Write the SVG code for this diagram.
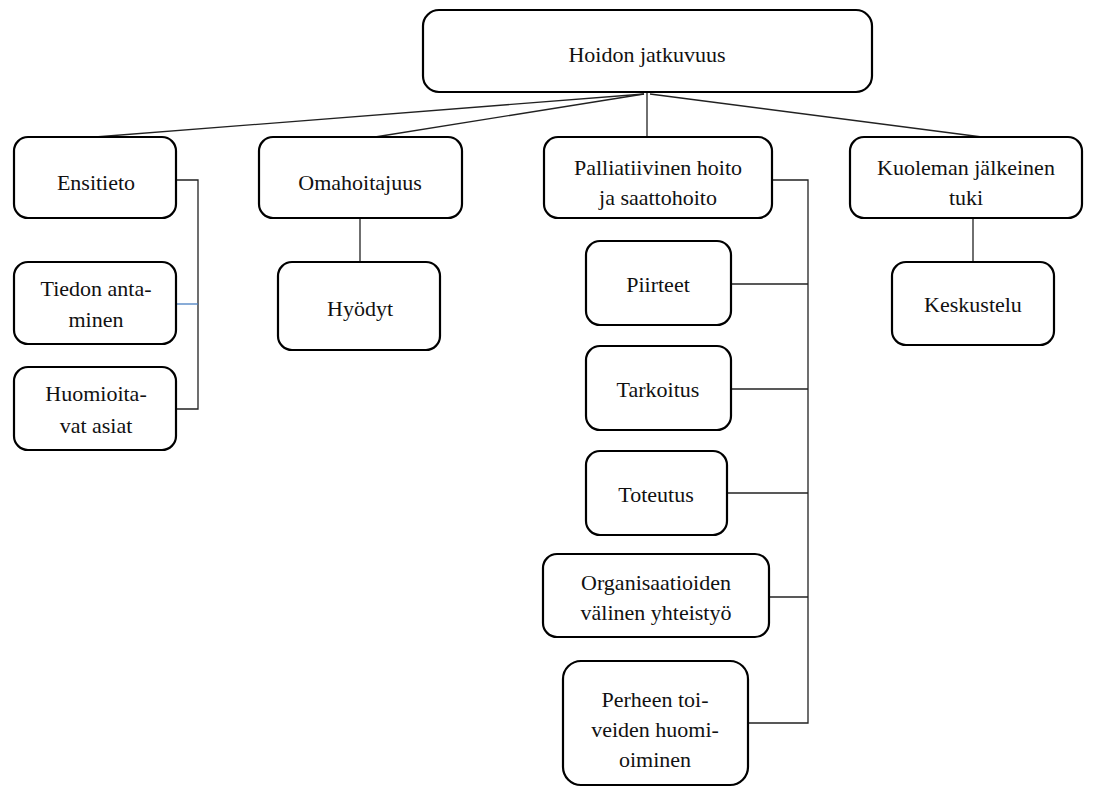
<svg xmlns="http://www.w3.org/2000/svg" width="1096" height="787" viewBox="0 0 1096 787">
<style>
.box{fill:#fff;stroke:#000;stroke-width:2.2}
.t{font-family:"Liberation Serif","Times New Roman",serif;font-size:22px;fill:#111;text-anchor:middle}
.c{fill:none;stroke:#222;stroke-width:1.3}
</style>
<rect width="1096" height="787" fill="#fff"/>
<g id="connectors">
<line class="c" x1="644" y1="94" x2="95" y2="137"/>
<line class="c" x1="644" y1="94" x2="375" y2="137"/>
<line class="c" x1="647" y1="92" x2="647" y2="137"/>
<line class="c" x1="650" y1="94" x2="982" y2="137"/>
<polyline class="c" points="176,180 198,180 198,409 176,409"/>
<line x1="176" y1="304" x2="198" y2="304" stroke="#4a7fc1" stroke-width="1.3"/>
<line class="c" x1="360" y1="218" x2="360" y2="262"/>
<polyline class="c" points="772,180 808,180 808,723 748,723"/>
<line class="c" x1="731" y1="284" x2="808" y2="284"/>
<line class="c" x1="731" y1="389" x2="808" y2="389"/>
<line class="c" x1="727" y1="493" x2="808" y2="493"/>
<line class="c" x1="769" y1="597" x2="808" y2="597"/>
<line class="c" x1="973" y1="218" x2="973" y2="262"/>
</g>
<g id="n-hoidon"><rect class="box" x="423" y="10" width="449" height="82" rx="16"/><text class="t" x="647" y="62">Hoidon jatkuvuus</text></g>
<g id="n-ensitieto"><rect class="box" x="14" y="137" width="162" height="81" rx="14"/><text class="t" x="96" y="190">Ensitieto</text></g>
<g id="n-omahoitajuus"><rect class="box" x="259" y="137" width="203" height="81" rx="14"/><text class="t" x="360" y="190">Omahoitajuus</text></g>
<g id="n-palliatiivinen"><rect class="box" x="544" y="137" width="228" height="81" rx="14"/><text class="t" x="658" y="175">Palliatiivinen hoito</text><text class="t" x="658" y="205">ja saattohoito</text></g>
<g id="n-kuoleman"><rect class="box" x="850" y="137" width="232" height="81" rx="14"/><text class="t" x="966" y="175">Kuoleman jälkeinen</text><text class="t" x="966" y="205">tuki</text></g>
<g id="n-tiedon"><rect class="box" x="14" y="262" width="162" height="82" rx="14"/><text class="t" x="96" y="296">Tiedon anta-</text><text class="t" x="96" y="327">minen</text></g>
<g id="n-huomioitavat"><rect class="box" x="14" y="367" width="162" height="83" rx="14"/><text class="t" x="96" y="401">Huomioita-</text><text class="t" x="96" y="433">vat asiat</text></g>
<g id="n-hyodyt"><rect class="box" x="278" y="262" width="162" height="88" rx="14"/><text class="t" x="360" y="316">Hyödyt</text></g>
<g id="n-piirteet"><rect class="box" x="586" y="241" width="145" height="84" rx="14"/><text class="t" x="658" y="292">Piirteet</text></g>
<g id="n-tarkoitus"><rect class="box" x="586" y="346" width="145" height="84" rx="14"/><text class="t" x="658" y="397">Tarkoitus</text></g>
<g id="n-toteutus"><rect class="box" x="586" y="451" width="141" height="84" rx="14"/><text class="t" x="656" y="502">Toteutus</text></g>
<g id="n-organisaatioiden"><rect class="box" x="543" y="554" width="226" height="83" rx="14"/><text class="t" x="656" y="590">Organisaatioiden</text><text class="t" x="656" y="620">välinen yhteistyö</text></g>
<g id="n-perheen"><rect class="box" x="563" y="661" width="185" height="124" rx="18"/><text class="t" x="655" y="707">Perheen toi-</text><text class="t" x="655" y="737">veiden huomi-</text><text class="t" x="655" y="767">oiminen</text></g>
<g id="n-keskustelu"><rect class="box" x="892" y="262" width="162" height="83" rx="14"/><text class="t" x="973" y="312">Keskustelu</text></g>
</svg>
